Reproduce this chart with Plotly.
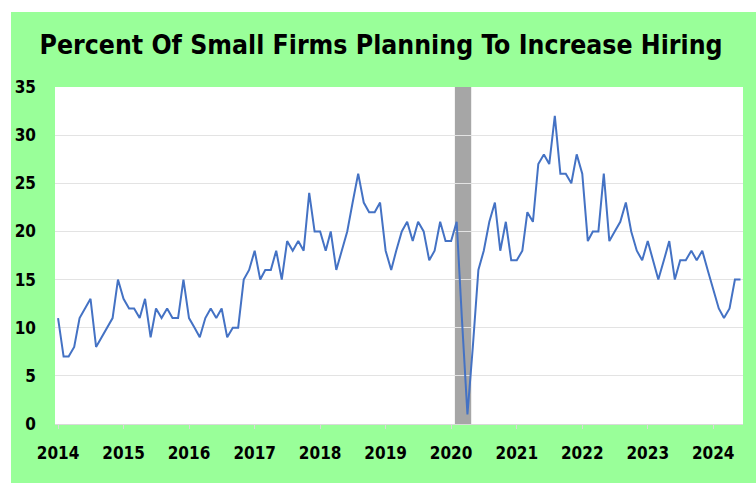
import pandas as pd
import plotly.graph_objects as go

# Monthly values, Jan 2014 .. Jun 2024
start_month = "2014-01-01"
values = [
    # 2014
    11, 7, 7, 8, 11, 12, 13, 8, 9, 10, 11, 15,
    # 2015
    13, 12, 12, 11, 13, 9, 12, 11, 12, 11, 11, 15,
    # 2016
    11, 10, 9, 11, 12, 11, 12, 9, 10, 10, 15, 16,
    # 2017
    18, 15, 16, 16, 18, 15, 19, 18, 19, 18, 24, 20,
    # 2018
    20, 18, 20, 16, 18, 20, 23, 26, 23, 22, 22, 23,
    # 2019
    18, 16, 18, 20, 21, 19, 21, 20, 17, 18, 21, 19,
    # 2020
    19, 21, 11, 1, 8, 16, 18, 21, 23, 18, 21, 17,
    # 2021
    17, 18, 22, 21, 27, 28, 27, 32, 26, 26, 25, 28,
    # 2022
    26, 19, 20, 20, 26, 19, 20, 21, 23, 20, 18, 17,
    # 2023
    19, 17, 15, 17, 19, 15, 17, 17, 18, 17, 18, 16,
    # 2024
    14, 12, 11, 12, 15, 15,
]
year_ticks = [str(y) for y in range(2014, 2025)]
y_ticks = [0, 5, 10, 15, 20, 25, 30, 35]
recession = ("2020-01-22", "2020-04-22")
title_text = "Percent Of Small Firms Planning To Increase Hiring"

dates = pd.date_range(start_month, periods=len(values), freq="MS")

W, H = 756, 483
L, R, T, B = 55, 13, 87, 59
pw, ph = W - L - R, H - T - B

GREEN = "#99FF99"
FONT = "DejaVu Sans Condensed, DejaVu Sans, sans-serif"

fig = go.Figure()
fig.add_trace(go.Scatter(
    x=dates, y=values, mode="lines",
    line=dict(color="#4472C4", width=2),
    hoverinfo="x+y", showlegend=False,
))

# recession shading
fig.add_vrect(x0=recession[0], x1=recession[1], fillcolor="#A6A6A6",
              opacity=1, line_width=0, layer="below")

# white strips outside the green panel (top and left)
def px2x(p):
    return (p - L) / pw

def py2y(p):
    return (H - B - p) / ph

fig.add_shape(type="rect", xref="paper", yref="paper",
              x0=px2x(0), x1=px2x(W), y0=py2y(12), y1=py2y(0),
              fillcolor="white", line_width=0, layer="above")
fig.add_shape(type="rect", xref="paper", yref="paper",
              x0=px2x(0), x1=px2x(11), y0=py2y(H), y1=py2y(0),
              fillcolor="white", line_width=0, layer="above")

fig.update_layout(
    width=W, height=H,
    margin=dict(l=L, r=R, t=T, b=B, pad=0),
    paper_bgcolor=GREEN,
    plot_bgcolor="white",
    title=dict(text="<b>" + title_text + "</b>", x=0.504, xanchor="center",
               y=1 - 45 / H, yanchor="middle", yref="container",
               font=dict(family=FONT, size=26.4, color="black")),
    font=dict(family=FONT, color="black"),
)

fig.update_xaxes(
    type="date",
    range=[pd.Timestamp(start_month) - pd.Timedelta(days=17),
           dates[-1] + pd.Timedelta(days=14)],
    tickvals=[pd.Timestamp(f"{y}-01-01") for y in year_ticks],
    ticktext=["<b>" + y + "</b>" for y in year_ticks],
    tickfont=dict(family=FONT, size=17, color="black"),
    showgrid=False, zeroline=False,
    showline=True, linecolor="#D9D9D9", linewidth=1,
    ticks="outside", ticklen=4, tickcolor="#D9D9D9",
    ticklabelstandoff=10,
)
fig.update_yaxes(
    range=[0, 35],
    tickvals=y_ticks,
    ticktext=["<b>" + str(v) + "</b>" for v in y_ticks],
    tickfont=dict(family=FONT, size=17, color="black"),
    showgrid=True, gridcolor="#E3E3E3", gridwidth=1,
    zeroline=False, showline=False,
    ticks="", ticklabelstandoff=18,
)

fig.write_html("out.html", config={"displayModeBar": False},
               post_script="document.body.style.margin='0';")
